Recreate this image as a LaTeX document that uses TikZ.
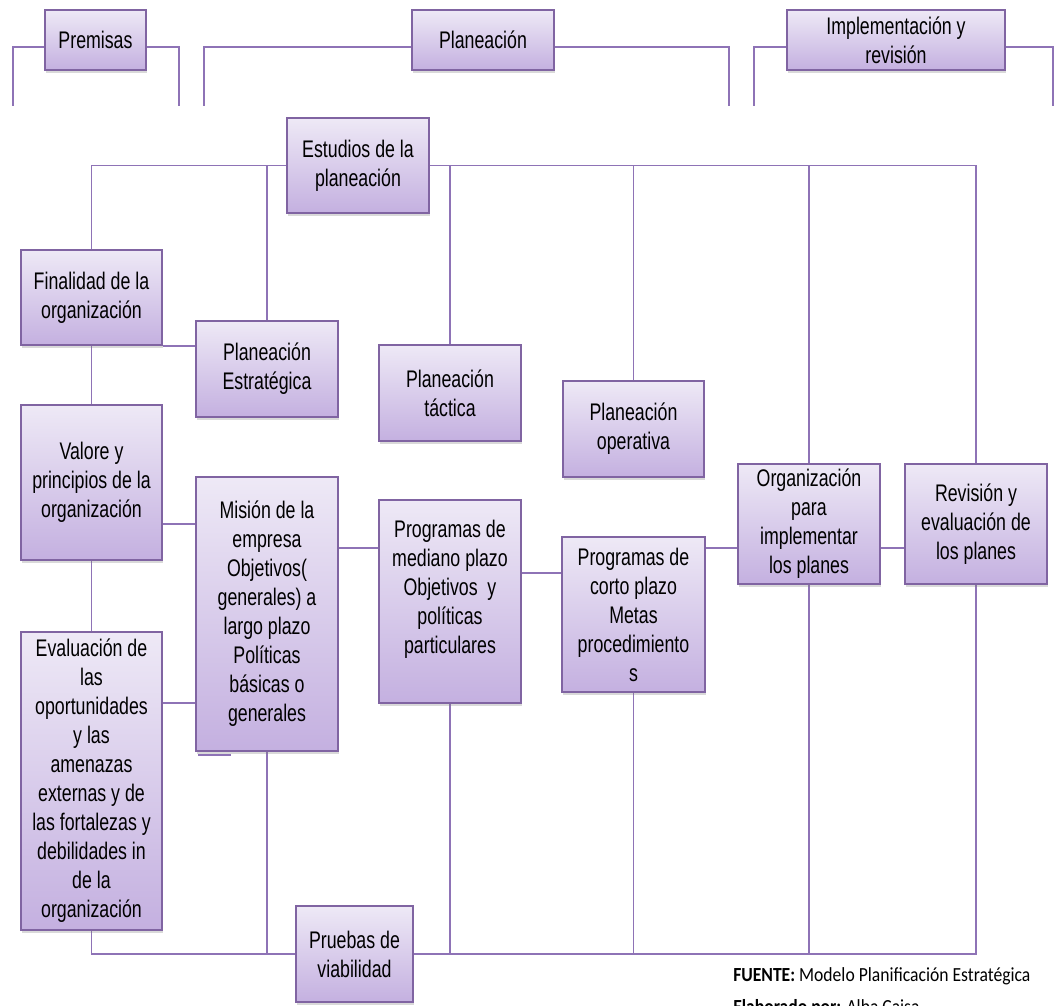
\documentclass[tikz,border=0pt]{standalone}
\usepackage{fontspec}
\setmainfont[FakeStretch=0.74]{Liberation Sans}
\newfontfamily\footfont[FakeStretch=0.88]{Carlito}
\usetikzlibrary{shadows,backgrounds}
\definecolor{linkline}{HTML}{8E73B6}
\definecolor{boxedge}{HTML}{8064A2}
\definecolor{boxtop}{HTML}{EEE9F6}
\definecolor{boxbottom}{HTML}{C4B0E0}
\begin{document}
\begin{tikzpicture}[x=0.75pt,y=-0.75pt,
  caja/.style={draw=boxedge, line width=1pt, top color=boxtop, bottom color=boxbottom,
    inner sep=0pt, align=center, minimum width=106.5pt,
    font=\fontsize{18}{21.75}\selectfont,
    drop shadow={shadow xshift=1pt, shadow yshift=-2pt, opacity=0.3}},
  enlace/.style={draw=linkline, line width=1.4pt}]
\useasboundingbox (0,0) rectangle (1054,1006);

% phase headers
\node[caja, minimum width=75.75pt, minimum height=45pt] (pre) at (95.5,40) {Premisas};
\node[caja, minimum height=45pt] (pla) at (483,40) {Planeación};
\node[caja, minimum width=163.5pt, minimum height=45pt] (imp) at (896,40) {Implementación y\\revisión};

% planning blocks
\node[caja, minimum height=71.25pt] (est) at (358,165.5) {Estudios de la\\planeación};
\node[caja, minimum width=105.75pt, minimum height=71.25pt] (fin) at (91.5,297.5) {Finalidad de la\\organización};
\node[caja, minimum height=72pt] (pe) at (267,369) {Planeación\\Estratégica};
\node[caja, minimum height=72pt] (tac) at (450,393) {Planeación\\táctica};
\node[caja, minimum width=105.75pt, minimum height=72pt] (ope) at (633.5,429) {Planeación\\operativa};
\node[caja, minimum width=105.75pt, minimum height=116.25pt] (val) at (91.5,482.5) {Valore y\\principios de la\\organización};
\node[caja, minimum height=205.5pt] (mis) at (267,614) {Misión de la\\empresa\\Objetivos(\\generales) a\\largo plazo\\Políticas\\básicas o\\generales};
\node[caja, minimum height=152.25pt] (pme) at (450,601.5) {Programas de\\mediano plazo\\Objetivos~ y\\políticas\\particulares\\\mbox{}};
\node[caja, minimum width=107.25pt, minimum height=116.25pt] (pco) at (633.5,614.5) {Programas de\\corto plazo\\Metas\\procedimiento\\s};
\node[caja, minimum height=90pt] (org) at (809,524) {Organización\\para\\implementar\\los planes};
\node[caja, minimum height=90pt] (rev) at (976,524) {Revisión y\\evaluación de\\los planes};
\node[caja, minimum width=105.75pt, minimum height=223.5pt] (eva) at (91.5,781) {Evaluación de\\las\\oportunidades\\y las\\amenazas\\externas y de\\las fortalezas y\\debilidades in\\de la\\organización};
\node[caja, minimum width=87.75pt, minimum height=72pt] (pru) at (354.5,954) {Pruebas de\\viabilidad};

% short rule under the mission block
\coordinate (misA) at (198,755);
\coordinate (misB) at (231,755);
\draw[enlace, line width=1.5pt] (misA) -- (misB);

% source note
\node[anchor=base west, inner sep=0pt, font=\footfont\fontsize{15}{18}\selectfont] (fuente) at (733,981)
  {\textbf{FUENTE:} Modelo Planificación Estratégica};
\node[anchor=base west, inner sep=0pt, font=\footfont\fontsize{15}{18}\selectfont] (elab) at (733,1013)
  {\textbf{Elaborado por:} Alba Caisa};

% connectors behind the blocks
\begin{scope}[on background layer]
  \coordinate (hb) at (0,47);
  \coordinate (preL) at (13,106);
  \coordinate (preR) at (179,106);
  \coordinate (plaL) at (204,106);
  \coordinate (plaR) at (729,106);
  \coordinate (impL) at (754,106);
  \coordinate (impR) at (1053,106);
  \draw[enlace] (pre.west |- hb) -| (preL);
  \draw[enlace] (pre.east |- hb) -| (preR);
  \draw[enlace] (pla.west |- hb) -| (plaL);
  \draw[enlace] (pla.east |- hb) -| (plaR);
  \draw[enlace] (imp.west |- hb) -| (impL);
  \draw[enlace] (imp.east |- hb) -| (impR);

  \draw[enlace] (est.west) -| (fin.north);
  \draw[enlace] (est.west) -| (pe.north);
  \draw[enlace] (est.east) -| (tac.north);
  \draw[enlace] (est.east) -| (ope.north);
  \draw[enlace] (est.east) -| (org.north);
  \draw[enlace] (est.east) -| (rev.north);

  \draw[enlace] (fin.south east) -- (fin.south east -| pe.west);
  \draw[enlace] (fin.south) -- (val.north);
  \draw[enlace] (val.south) -- (eva.north);

  \coordinate (yVM) at (0,524);
  \coordinate (yEM) at (0,703);
  \coordinate (yMP) at (0,548);
  \coordinate (yPP) at (0,573);
  \draw[enlace] (val.east |- yVM) -- (mis.west |- yVM);
  \draw[enlace] (eva.east |- yEM) -- (mis.west |- yEM);
  \draw[enlace] (mis.east |- yMP) -- (pme.west |- yMP);
  \draw[enlace] (pme.east |- yPP) -- (pco.west |- yPP);
  \draw[enlace] (pco.east |- yMP) -- (org.west |- yMP);
  \draw[enlace] (org.east |- yMP) -- (rev.west |- yMP);

  \draw[enlace] (eva.south) |- (pru.west);
  \draw[enlace] (mis.south) |- (pru.west);
  \draw[enlace] (pme.south) |- (pru.east);
  \draw[enlace] (pco.south) |- (pru.east);
  \draw[enlace] (org.south) |- (pru.east);
  \draw[enlace] (rev.south) |- (pru.east);
\end{scope}
\end{tikzpicture}
\end{document}
